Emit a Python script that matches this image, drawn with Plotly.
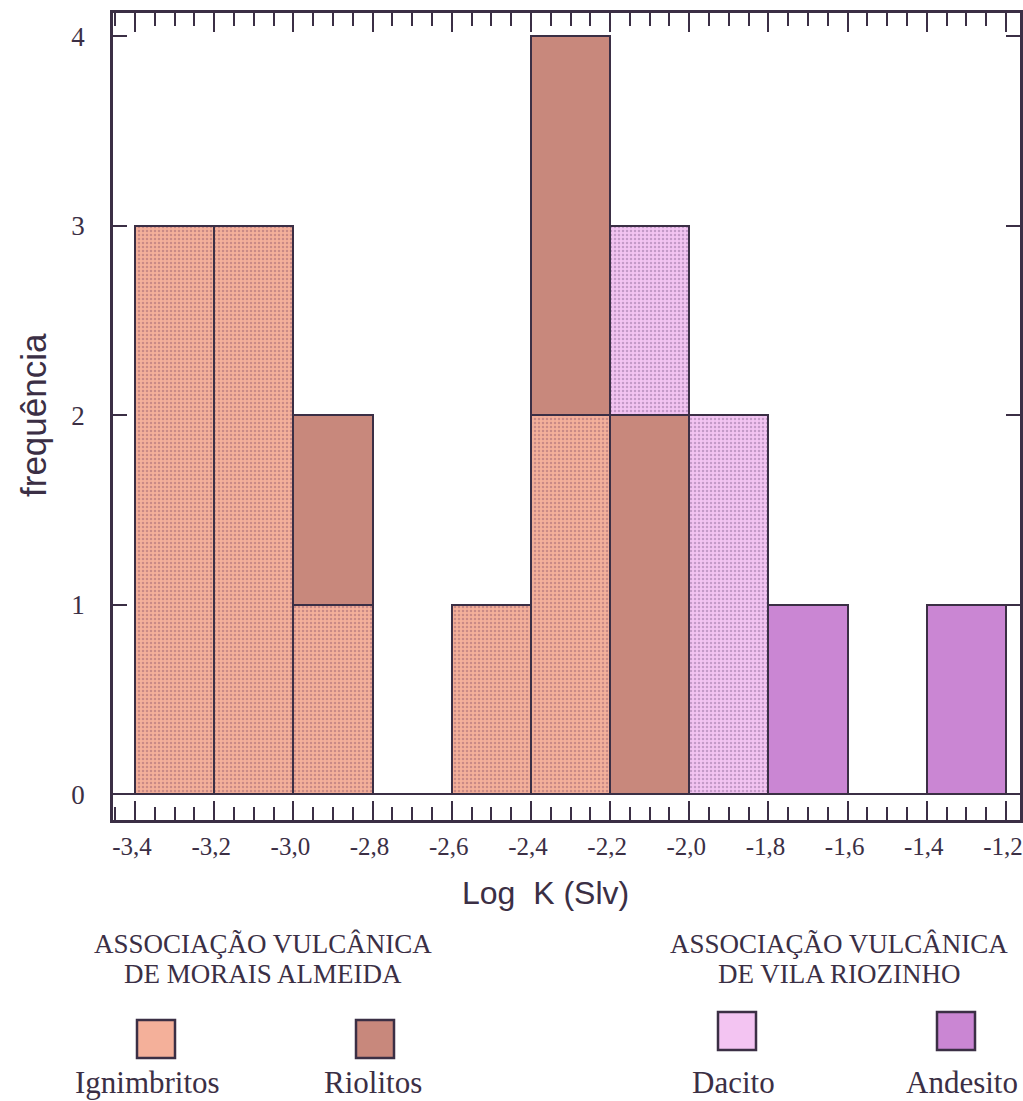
import plotly.graph_objects as go

# Histogram of Log K (SI v) by rock type — bins of 0.2 from -3.4 to -1.2
bin_centers = [-3.3, -3.1, -2.9, -2.7, -2.5, -2.3, -2.1, -1.9, -1.7, -1.5, -1.3]
ignimbritos = [3, 3, 1, None, 1, 2, None, None, None, None, None]
riolitos = [None, None, 1, None, None, 2, 2, None, None, None, None]
dacito = [None, None, None, None, None, None, 1, 2, None, None, None]
andesito = [None, None, None, None, None, None, None, None, 1, None, 1]

x_tick_vals = [-3.4, -3.2, -3.0, -2.8, -2.6, -2.4, -2.2, -2.0, -1.8, -1.6, -1.4, -1.2]
x_tick_text = ["-3,4", "-3,2", "-3,0", "-2,8", "-2,6", "-2,4", "-2,2", "-2,0",
               "-1,8", "-1,6", "-1,4", "-1,2"]
y_tick_vals = [0, 1, 2, 3, 4]

group_titles = [["ASSOCIAÇÃO VULCÂNICA", "DE MORAIS ALMEIDA"],
                ["ASSOCIAÇÃO VULCÂNICA", "DE VILA RIOZINHO"]]
legend_names = ["Ignimbritos", "Riolitos", "Dacito", "Andesito"]

INK = "#3b2f45"
SERIF = "Liberation Serif"
SANS = "Liberation Sans"

colors = {
    "Ignimbritos": "#f4b09a",
    "Riolitos": "#c8887c",
    "Dacito": "#f3c4f2",
    "Andesito": "#ca86d3",
}
dots = {
    "Ignimbritos": "#c98a86",
    "Dacito": "#c49ac8",
}

# plot-area geometry in pixels (for placing text and swatches below the axes)
L, R, T, B = 113, 1020, 13, 820


def px(x):
    return (x - L) / (R - L)


def py(y):
    return (B - y) / (B - T)


fig = go.Figure()
for name, vals in zip(legend_names, [ignimbritos, riolitos, dacito, andesito]):
    marker = dict(color=colors[name], line=dict(color=INK, width=2.5))
    if name in dots:
        marker["pattern"] = dict(shape=".", size=4, solidity=0.3,
                                 fgcolor=dots[name], bgcolor=colors[name],
                                 fillmode="replace")
    fig.add_trace(go.Bar(x=bin_centers, y=vals, width=0.2, name=name,
                         marker=marker, showlegend=False))

axis_common = dict(showline=True, linecolor=INK, linewidth=2.5, mirror="allticks",
                   ticks="inside", tickcolor=INK, tickwidth=2, showgrid=False,
                   automargin=False)

fig.update_xaxes(
    **axis_common,
    range=[-3.4556, -1.1646],
    tickmode="array", tickvals=x_tick_vals, ticktext=x_tick_text,
    ticklen=19,
    minor=dict(tickmode="linear", tick0=-3.4, dtick=0.05, ticks="inside",
               ticklen=13, tickcolor=INK, tickwidth=2),
    tickfont=dict(family=SERIF, size=25, color=INK),
    ticklabelstandoff=2,
    ticklabelshift=-3,
    ticklabeloverflow="allow",
    zeroline=False,
)
fig.update_yaxes(
    **axis_common,
    range=[-0.137, 4.124],
    tickmode="array", tickvals=y_tick_vals, ticktext=[str(v) for v in y_tick_vals],
    ticklen=14,
    tickfont=dict(family=SERIF, size=27, color=INK),
    ticklabelstandoff=20,
    zeroline=True, zerolinecolor=INK, zerolinewidth=2,
)

annotations = [
    dict(text="frequência", x=px(33), y=py(415), xref="paper", yref="paper",
         textangle=-90, showarrow=False, xanchor="center", yanchor="middle",
         font=dict(family=SANS, size=35, color=INK)),
    dict(text="Log  K (Slv)", x=px(545), y=py(893), xref="paper", yref="paper",
         showarrow=False, xanchor="center", yanchor="middle",
         font=dict(family=SANS, size=32, color=INK)),
]

# group headings
for (line1, line2), cx in zip(group_titles, [263, 839]):
    for text, cy in [(line1, 944), (line2, 974)]:
        annotations.append(dict(text=text, x=px(cx), y=py(cy), xref="paper", yref="paper",
                                showarrow=False, xanchor="center", yanchor="middle",
                                font=dict(family=SERIF, size=27, color=INK)))

# legend swatches and labels
swatch_x = [137, 356, 718, 937]
swatch_y = [1020, 1020, 1012, 1012]
label_x = [147, 373, 733, 962]
shapes = []
for name, sx, sy, lx in zip(legend_names, swatch_x, swatch_y, label_x):
    shapes.append(dict(type="rect", xref="paper", yref="paper",
                       x0=px(sx), x1=px(sx + 38), y0=py(sy + 38), y1=py(sy),
                       fillcolor=colors[name], line=dict(color=INK, width=2.5)))
    annotations.append(dict(text=name, x=px(lx), y=py(1082), xref="paper", yref="paper",
                            showarrow=False, xanchor="center", yanchor="middle",
                            font=dict(family=SERIF, size=31, color=INK)))

fig.update_layout(
    width=1023, height=1101,
    margin=dict(l=L, r=1023 - R, t=T, b=1101 - B, autoexpand=False),
    barmode="stack", bargap=0,
    plot_bgcolor="white", paper_bgcolor="white",
    annotations=annotations, shapes=shapes,
)

fig.write_html("out.html")
